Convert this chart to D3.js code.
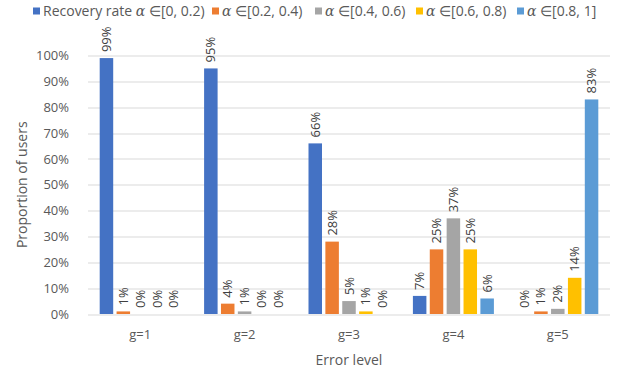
<!DOCTYPE html>
<html>
<head>
<meta charset="utf-8">
<script src="https://cdn.jsdelivr.net/npm/d3@7"></script>
<style>
  body { margin: 0; background: #fff; }
  text { font-family: "Open Sans", "Liberation Sans", sans-serif; }
</style>
</head>
<body>
<div id="chart"></div>
<script>
// Proportion of users per error level, by recovery rate bucket

var categories = ["g=1", "g=2", "g=3", "g=4", "g=5"];
var seriesNames = ["[0, 0.2)", "[0.2, 0.4)", "[0.4, 0.6)", "[0.6, 0.8)", "[0.8, 1]"];
var seriesColors = ["#4472C4", "#ED7D31", "#A5A5A5", "#FFC000", "#5B9BD5"];
var rate00 = [99, 95, 66, 7, 0];
var rate02 = [1, 4, 28, 25, 1];
var rate04 = [0, 1, 5, 37, 2];
var rate06 = [0, 0, 1, 25, 14];
var rate08 = [0, 0, 0, 6, 83];
var yTicks = [0, 10, 20, 30, 40, 50, 60, 70, 80, 90, 100];

var series = [rate00, rate02, rate04, rate06, rate08];

var svgWidth = 618;
var svgHeight = 374;
var margin = { top: 55.5, right: 8, bottom: 60, left: 88 };
var width = svgWidth - margin.left - margin.right;
var height = 314 - margin.top;

var svg = d3.select("#chart")
  .append("svg")
  .attr("width", svgWidth)
  .attr("height", svgHeight);

var g = svg.append("g")
  .attr("transform", `translate(${margin.left}, ${margin.top})`);

// scales
var x = d3.scaleBand()
  .domain(categories)
  .range([0, width]);

var x1 = d3.scaleBand()
  .domain(d3.range(series.length))
  .range([x.bandwidth() / 2 - 40.5, x.bandwidth() / 2 + 40.5])
  .paddingInner(0.2);

var y = d3.scaleLinear()
  .domain([0, 100])
  .range([height, 0]);

// gridlines
g.append("g")
  .selectAll("line")
  .data(yTicks)
  .enter()
  .append("line")
  .attr("x1", 0)
  .attr("x2", width)
  .attr("y1", d => Math.round(y(d)) + 0.5)
  .attr("y2", d => Math.round(y(d)) + 0.5)
  .attr("stroke", "#d9d9d9")
  .attr("stroke-width", 1);

// y axis labels
var yAxis = g.append("g")
  .attr("transform", "translate(-16, 0)")
  .call(d3.axisLeft(y).tickValues(yTicks).tickFormat(d => d + "%").tickSize(0));
yAxis.select(".domain").remove();
yAxis.selectAll("text")
  .attr("fill", "#595959")
  .attr("font-size", 13)
  .attr("font-family", "Open Sans, sans-serif");

// x axis labels
var xAxis = g.append("g")
  .attr("transform", `translate(0, ${height})`)
  .call(d3.axisBottom(x).tickSize(0).tickPadding(16));
xAxis.select(".domain").remove();
xAxis.selectAll("text")
  .attr("fill", "#595959")
  .attr("font-size", 13)
  .attr("font-family", "Open Sans, sans-serif");

// bars
var groups = g.selectAll(".grp")
  .data(categories)
  .enter()
  .append("g")
  .attr("class", "grp")
  .attr("transform", d => `translate(${x(d)}, 0)`);

groups.selectAll("rect")
  .data((d, i) => series.map((s, k) => ({ k: k, v: s[i] })))
  .enter()
  .append("rect")
  .attr("x", d => x1(d.k))
  .attr("width", x1.bandwidth())
  .attr("y", d => y(d.v))
  .attr("height", d => height - y(d.v))
  .attr("fill", d => seriesColors[d.k]);

// value labels
groups.selectAll(".val")
  .data((d, i) => series.map((s, k) => ({ k: k, v: s[i] })))
  .enter()
  .append("text")
  .attr("class", "val")
  .attr("transform", d => `translate(${x1(d.k) + x1.bandwidth() / 2 + 4.5}, ${y(d.v) - 6}) rotate(-90)`)
  .attr("font-size", 13)
  .attr("fill", "#404040")
  .text(d => d.v + "%");

// axis titles
svg.append("text")
  .attr("transform", `translate(27, ${margin.top + height / 2}) rotate(-90)`)
  .attr("text-anchor", "middle")
  .attr("font-size", 14)
  .attr("fill", "#595959")
  .text("Proportion of users");

svg.append("text")
  .attr("x", margin.left + width / 2)
  .attr("y", 365)
  .attr("text-anchor", "middle")
  .attr("font-size", 14)
  .attr("fill", "#595959")
  .text("Error level");

// legend
var legendX = [33, 212, 315, 416, 517];
var legend = svg.append("g").attr("transform", "translate(0, 11)");
seriesNames.forEach(function(name, k) {
  var item = legend.append("g")
    .attr("transform", `translate(${legendX[k]}, 0)`);
  item.append("rect")
    .attr("x", 0)
    .attr("y", -3.5)
    .attr("width", 7)
    .attr("height", 7)
    .attr("fill", seriesColors[k]);
  var t = item.append("text")
    .attr("x", 10)
    .attr("y", 5)
    .attr("font-size", 14)
    .attr("fill", "#595959");
  if (k === 0) t.append("tspan").text("Recovery rate ");
  t.append("tspan")
    .attr("font-family", "DejaVu Serif, serif")
    .attr("font-style", "italic")
    .text("\u03b1");
  t.append("tspan").text(" \u2208" + name);
});
</script>
</body>
</html>
